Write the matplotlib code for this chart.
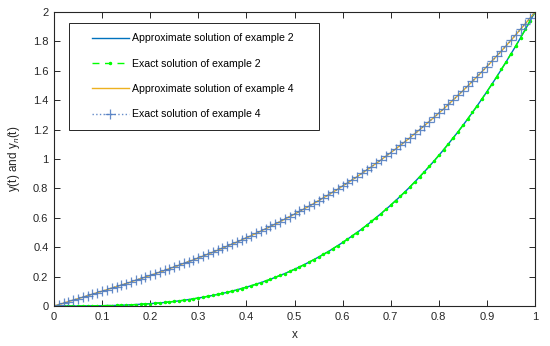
import numpy as np
import matplotlib
matplotlib.use("Agg")
import matplotlib.pyplot as plt
from matplotlib.legend_handler import HandlerLine2D

plt.rcParams['font.family'] = ['Liberation Sans', 'DejaVu Sans']
plt.rcParams['mathtext.fontset'] = 'custom'
plt.rcParams['mathtext.it'] = 'Liberation Sans:italic'
plt.rcParams['mathtext.rm'] = 'Liberation Sans'

# data (x step 0.01)
x = np.linspace(0, 1, 101)

y_ex2 = [0.000, 0.000, 0.000, 0.000, 0.000, 0.000, 0.000, 0.001, 0.001, 0.001,
         0.002, 0.003, 0.003, 0.004, 0.005, 0.007, 0.008, 0.010, 0.012, 0.014,
         0.016, 0.019, 0.021, 0.024, 0.028, 0.031, 0.035, 0.039, 0.044, 0.049,
         0.054, 0.060, 0.066, 0.072, 0.079, 0.086, 0.093, 0.101, 0.110, 0.119,
         0.128, 0.138, 0.148, 0.159, 0.170, 0.182, 0.195, 0.208, 0.221, 0.235,
         0.250, 0.265, 0.281, 0.298, 0.315, 0.333, 0.351, 0.370, 0.390, 0.411,
         0.432, 0.454, 0.477, 0.500, 0.524, 0.549, 0.575, 0.602, 0.629, 0.657,
         0.686, 0.716, 0.746, 0.778, 0.810, 0.844, 0.878, 0.913, 0.949, 0.986,
         1.024, 1.063, 1.103, 1.144, 1.185, 1.228, 1.272, 1.317, 1.363, 1.410,
         1.458, 1.507, 1.557, 1.609, 1.661, 1.715, 1.769, 1.825, 1.882, 1.941,
         2.000]

y_ex4 = [0.000, 0.010, 0.020, 0.030, 0.040, 0.050, 0.060, 0.070, 0.081, 0.091,
         0.101, 0.111, 0.122, 0.132, 0.143, 0.153, 0.164, 0.175, 0.186, 0.197,
         0.208, 0.219, 0.231, 0.242, 0.254, 0.266, 0.278, 0.290, 0.302, 0.314,
         0.327, 0.340, 0.353, 0.366, 0.379, 0.393, 0.407, 0.421, 0.435, 0.449,
         0.464, 0.479, 0.494, 0.510, 0.525, 0.541, 0.557, 0.574, 0.591, 0.608,
         0.625, 0.643, 0.661, 0.679, 0.697, 0.716, 0.736, 0.755, 0.775, 0.795,
         0.816, 0.837, 0.858, 0.880, 0.902, 0.925, 0.947, 0.971, 0.994, 1.019,
         1.043, 1.068, 1.093, 1.119, 1.145, 1.172, 1.199, 1.227, 1.255, 1.283,
         1.312, 1.341, 1.371, 1.402, 1.433, 1.464, 1.496, 1.529, 1.561, 1.595,
         1.629, 1.664, 1.699, 1.734, 1.771, 1.807, 1.845, 1.883, 1.921, 1.960,
         2.000]

labels = ["Approximate solution of example 2", "Exact solution of example 2",
          "Approximate solution of example 4", "Exact solution of example 4"]

fig = plt.figure(figsize=(5.5, 3.46), dpi=100)
ax = fig.add_axes([54/550, 1 - 306/346, 481/550, 294/346])

ax.plot(x, y_ex2, color='#0072BD', lw=1.0, label=labels[0])
ax.plot(x, y_ex2, color='#00FF00', lw=1.0, ls=(0, (5, 4)), marker='.',
        ms=3, label=labels[1])
ax.plot(x, y_ex4, color='#EDB120', lw=1.0, label=labels[2])
ax.plot(x, y_ex4, color='#4A78C0', lw=1.0, ls=':', marker='+', ms=6.5,
        mew=0.9, alpha=0.85, label=labels[3])

ax.set_xlim(0, 1)
ax.set_ylim(0, 2)
ax.set_xticks(np.arange(0, 1.01, 0.1))
ax.set_xticklabels(['0', '0.1', '0.2', '0.3', '0.4', '0.5', '0.6', '0.7', '0.8', '0.9', '1'])
ax.set_yticks(np.arange(0, 2.01, 0.2))
ax.set_yticklabels(['0', '0.2', '0.4', '0.6', '0.8', '1', '1.2', '1.4', '1.6', '1.8', '2'])
ax.tick_params(direction='in', top=True, right=True, length=4, width=0.7,
               labelsize=8, colors='#262626', pad=4)
for s in ax.spines.values():
    s.set_color('#262626')
    s.set_linewidth(0.8)

ax.set_xlabel('x', fontsize=8.5, color='#262626', labelpad=5)
ax.set_ylabel('y(t) and y$_{n}$(t)', fontsize=8.5, color='#262626', labelpad=8)

# legend box: MATLAB-like padding around handles and text
hmap = {h: HandlerLine2D(xpad=1.2) for h in ax.get_lines()}
leg = ax.legend(loc='upper left', bbox_to_anchor=(0.031, 0.963, 0.52, 0.0),
                mode='expand', borderaxespad=0, fontsize=7.6,
                handlelength=4.65, labelspacing=1.45, borderpad=1.0,
                handletextpad=0.3, fancybox=False, framealpha=1,
                handler_map=hmap)
leg.get_frame().set_edgecolor('#262626')
leg.get_frame().set_linewidth(0.7)

plt.savefig("out.png", dpi=100)
plt.close()
